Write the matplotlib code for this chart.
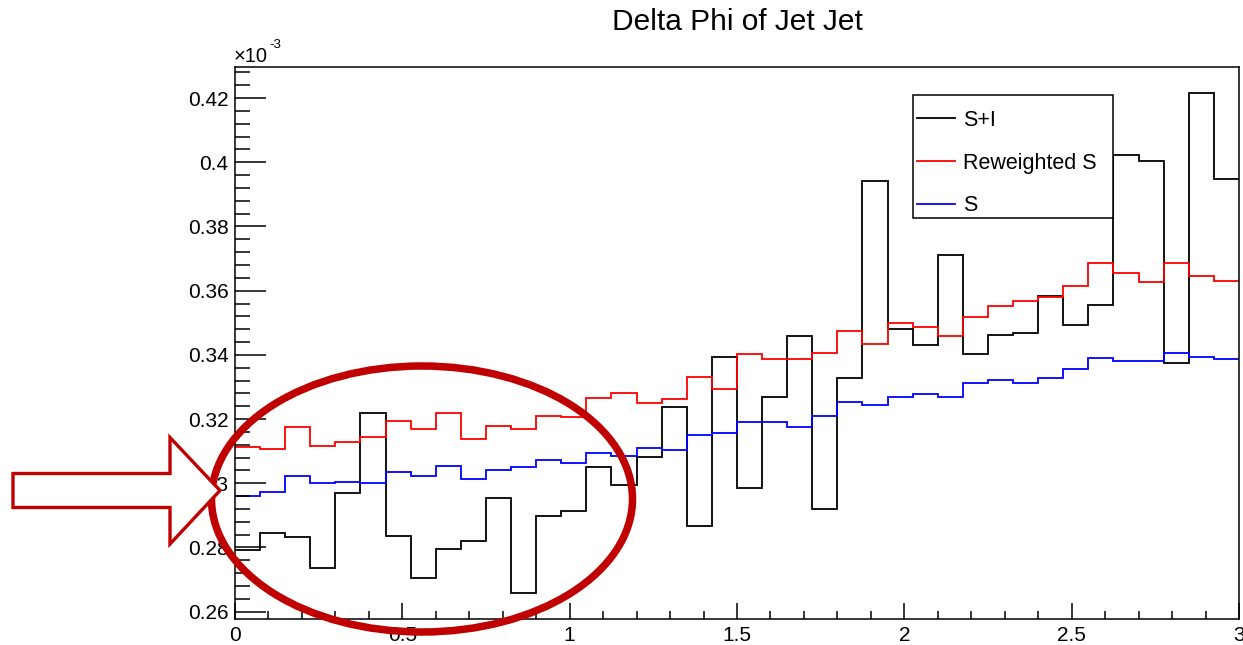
import numpy as np
import matplotlib.pyplot as plt
from matplotlib.patches import Ellipse, Polygon, Rectangle
from matplotlib.ticker import MultipleLocator, FuncFormatter

plt.rcParams['font.family'] = ['Liberation Sans', 'DejaVu Sans']

# delta phi histograms, 40 bins on [0, 3], contents in units of 1e-3
phi_lo, phi_hi, n_bins = 0.0, 3.0, 40

s_plus_i = [0.2792, 0.2844, 0.2832, 0.2737, 0.2971, 0.3218, 0.2837, 0.2706,
            0.2794, 0.2820, 0.2955, 0.2657, 0.2899, 0.2912, 0.3051, 0.2994,
            0.3081, 0.3237, 0.2868, 0.3393, 0.2986, 0.3270, 0.3460, 0.2920,
            0.3327, 0.3942, 0.3481, 0.3430, 0.3711, 0.3404, 0.3462, 0.3467,
            0.3583, 0.3493, 0.3555, 0.4023, 0.4005, 0.3374, 0.4215, 0.3948]

reweighted_s = [0.3112, 0.3107, 0.3174, 0.3117, 0.3130, 0.3143, 0.3194, 0.3168,
                0.3218, 0.3137, 0.3179, 0.3168, 0.3211, 0.3206, 0.3267, 0.3280,
                0.3249, 0.3262, 0.3330, 0.3295, 0.3404, 0.3387, 0.3387, 0.3405,
                0.3474, 0.3434, 0.3500, 0.3486, 0.3460, 0.3517, 0.3553, 0.3568,
                0.3581, 0.3616, 0.3685, 0.3656, 0.3628, 0.3685, 0.3647, 0.3630]

s_only = [0.2961, 0.2974, 0.3024, 0.3000, 0.3005, 0.3000, 0.3036, 0.3024,
          0.3055, 0.3012, 0.3041, 0.3050, 0.3073, 0.3062, 0.3093, 0.3086,
          0.3110, 0.3104, 0.3150, 0.3156, 0.3192, 0.3192, 0.3174, 0.3211,
          0.3254, 0.3244, 0.3269, 0.3278, 0.3270, 0.3312, 0.3323, 0.3313,
          0.3329, 0.3355, 0.3391, 0.3381, 0.3381, 0.3405, 0.3393, 0.3386]

edges = np.linspace(phi_lo, phi_hi, n_bins + 1)

W, H = 1243, 645
fig = plt.figure(figsize=(W / 100, H / 100), dpi=100)
ax = fig.add_axes([235 / W, 1 - 619.3 / H, 1004 / W, 552 / H])


def px(x, y):
    # pixel position (from the top-left corner) -> figure fraction
    return (x / W, 1 - y / H)


ax.stairs(s_plus_i, edges, baseline=None, color='black', lw=1.3, label='S+I')
ax.stairs(reweighted_s, edges, baseline=None, color='#ff0000', lw=1.3, label='Reweighted S')
ax.stairs(s_only, edges, baseline=None, color='#0000ff', lw=1.3, label='S')

ax.set_xlim(phi_lo, phi_hi)
ax.set_ylim(0.2576, 0.4296)

# ROOT-like axes: ticks inside, only on the left/bottom
fmt = FuncFormatter(lambda v, pos: f"{round(v, 4):g}")
ax.xaxis.set_major_locator(MultipleLocator(0.5))
ax.xaxis.set_minor_locator(MultipleLocator(0.1))
ax.yaxis.set_major_locator(MultipleLocator(0.02))
ax.yaxis.set_minor_locator(MultipleLocator(0.004))
ax.xaxis.set_major_formatter(fmt)
ax.yaxis.set_major_formatter(fmt)
ax.tick_params(axis='both', which='both', direction='in', width=1.1,
               top=False, right=False, labelsize=15, pad=4.5)
ax.tick_params(axis='x', which='major', length=11.5)
ax.tick_params(axis='x', which='minor', length=5.8)
ax.tick_params(axis='y', which='major', length=22)
ax.tick_params(axis='y', which='minor', length=11)
for sp in ax.spines.values():
    sp.set_linewidth(1.1)

# axis multiplier, ROOT style
fig.text(*px(234, 62), '×10', ha='left', va='baseline', fontsize=14.5)
fig.text(*px(269, 48), '-3', ha='left', va='baseline', fontsize=9.5)

fig.text((235 + 1239) / 2 / W, 1 - 21.7 / H, 'Delta Phi of Jet Jet',
         ha='center', va='center', fontsize=21.5)

# legend box with its entries
x0, y1 = px(912.5, 95)
x1, y0 = px(1113, 218)
fig.patches.append(Rectangle((x0, y0), x1 - x0, y1 - y0, transform=fig.transFigure,
                             facecolor='white', edgecolor='black', lw=1.1, zorder=2))
leg = fig.legend(*ax.get_legend_handles_labels(), loc='upper left',
                 bbox_to_anchor=px(917, 110), fontsize=15.5, frameon=False,
                 borderpad=0, labelspacing=1.0, handlelength=1.75,
                 handletextpad=0.38, borderaxespad=0)
leg.set_zorder(3)

# highlight on the low delta phi region
cx, cy = px(422, 499)
ring = Ellipse((cx, cy), 421 / W, 266 / H, transform=fig.transFigure,
               fill=False, edgecolor='#c00000', lw=5.4, zorder=5)
fig.patches.append(ring)

arrow_pts = [px(13, 473.5), px(170, 473.5), px(170, 437.5), px(220, 490.5),
             px(170, 544), px(170, 507.5), px(13, 507.5)]
arrow = Polygon(arrow_pts, closed=True, transform=fig.transFigure,
                facecolor='white', edgecolor='#c00000', lw=2.4,
                joinstyle='miter', zorder=6)
fig.patches.append(arrow)

fig.savefig('out.png', dpi=100)
